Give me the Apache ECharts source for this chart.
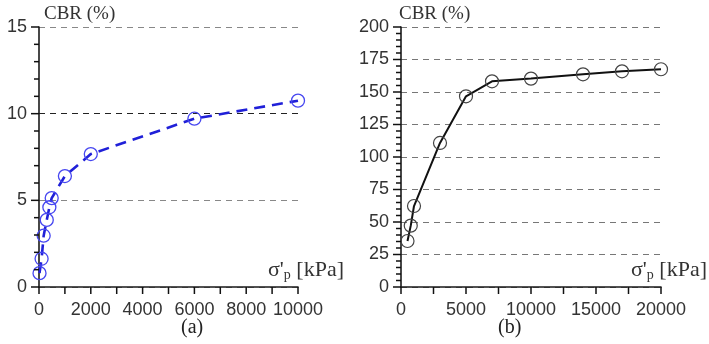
<!DOCTYPE html>
<html>
<head>
<meta charset="utf-8">
<script src="https://cdn.jsdelivr.net/npm/echarts@6/dist/echarts.min.js"></script>
<style>
html,body{margin:0;padding:0;background:#fff;}
#chart{width:709px;height:344px;}
</style>
</head>
<body>
<div id="chart"></div>
<script>
// Panel (a): CBR vs sigma'p
const stressA = [20, 100, 180, 300, 400, 490, 1000, 2000, 6000, 10000];
const cbrA = [0.8, 1.63, 2.96, 3.87, 4.6, 5.13, 6.4, 7.67, 9.71, 10.75];
// Panel (b)
const stressB = [500, 750, 1000, 3000, 5000, 7000, 10000, 14000, 17000, 20000];
const cbrB = [35.4, 47.2, 62.3, 110.8, 146.7, 158.2, 160.3, 163.6, 165.9, 167.5];
// Axis settings
const yTicksA = [0, 5, 10, 15];
const xTicksA = [0, 2000, 4000, 6000, 8000, 10000];
const yTicksB = [0, 25, 50, 75, 100, 125, 150, 175, 200];
const xTicksB = [0, 5000, 10000, 15000, 20000];
const yMinorStepA = 1, xMinorStepA = 1000;
const yMinorStepB = 5, xMinorStepB = 2500;
const axisTitleY = 'CBR (%)';
const panelLabels = ['(a)', '(b)'];

const pairs = (xs, ys) => xs.map((x, i) => [x, ys[i]]);

// tick marks: [value, axis (0 = x, 1 = y), major (1/0)]
function tickData(xTicks, xStep, yTicks, yStep) {
  const out = [];
  const xMax = xTicks[xTicks.length - 1], yMax = yTicks[yTicks.length - 1];
  for (let v = 0; v <= xMax + 1e-9; v += xStep) out.push([v, 0, xTicks.includes(v) ? 1 : 0]);
  for (let v = 0; v <= yMax + 1e-9; v += yStep) out.push([v, 1, yTicks.includes(v) ? 1 : 0]);
  return out;
}

const labelFont = {fontFamily: 'Liberation Sans, Arial, sans-serif', fontSize: 18, color: '#333'};
const fmt = v => String(v);

function xAxis(gi, max, interval) {
  return {
    type: 'value', gridIndex: gi, min: 0, max: max, interval: interval,
    axisLine: {show: true, onZero: false, lineStyle: {color: '#1a1a1a', width: 1.6}},
    axisTick: {show: false},
    axisLabel: Object.assign({margin: 14, formatter: fmt}, labelFont),
    splitLine: {show: false}
  };
}
function yAxis(gi, max, interval, colors) {
  return {
    type: 'value', gridIndex: gi, min: 0, max: max, interval: interval,
    axisLine: {show: true, onZero: false, lineStyle: {color: '#1a1a1a', width: 1.6}},
    axisTick: {show: false},
    axisLabel: Object.assign({margin: 12, formatter: fmt}, labelFont),
    splitLine: {show: true, lineStyle: {color: colors, width: 1.2, type: [6, 5]}}
  };
}

function tickSeries(idx, data) {
  return {
    type: 'custom', xAxisIndex: idx, yAxisIndex: idx, data: data,
    clip: false, silent: true, z: 6,
    encode: {x: 0},
    renderItem: function (params, api) {
      const v = api.value(0), axis = api.value(1), major = api.value(2);
      const style = {stroke: '#111', lineWidth: 1.5};
      if (axis === 0) {
        const p = api.coord([v, 0]);
        return {type: 'line', shape: {x1: p[0], y1: p[1], x2: p[0], y2: p[1] + 7}, style: style};
      }
      const p = api.coord([0, v]);
      const len = major ? 8 : 5;
      return {type: 'line', shape: {x1: p[0] - len, y1: p[1], x2: p[0], y2: p[1]}, style: style};
    }
  };
}

const chart = echarts.init(document.getElementById('chart'), null, {renderer: 'canvas'});

function sigmaLabel(x) {
  return {
    type: 'text', left: x, top: 259,
    style: {
      text: "{s|σ'}{p|p}{s| [kPa]}",
      rich: {
        s: {fontFamily: 'Liberation Serif, Times New Roman, serif', fontSize: 22, fill: '#333'},
        p: {fontFamily: 'Liberation Serif, Times New Roman, serif', fontSize: 14, fill: '#333', padding: [11, 0, 0, 0]}
      }
    }
  };
}

chart.setOption({
  animation: false,
  backgroundColor: '#fff',
  grid: [
    {left: 39, top: 27, width: 259, height: 260},
    {left: 401, top: 27, width: 260, height: 260}
  ],
  xAxis: [xAxis(0, 10000, 2000), xAxis(1, 20000, 5000)],
  yAxis: [
    yAxis(0, 15, 5, ['#888', '#888', '#222', '#888']),
    yAxis(1, 200, 25, ['#777'])
  ],
  series: [
    {
      type: 'line', xAxisIndex: 0, yAxisIndex: 0,
      data: pairs(stressA, cbrA),
      symbol: 'circle', symbolSize: 13,
      itemStyle: {color: 'rgba(0,0,0,0)', borderColor: '#4646f0', borderWidth: 1.3},
      lineStyle: {color: '#2020d8', width: 2.6, type: [11, 7]},
      z: 3
    },
    {
      type: 'line', xAxisIndex: 1, yAxisIndex: 1,
      data: pairs(stressB, cbrB),
      symbol: 'circle', symbolSize: 13,
      itemStyle: {color: 'rgba(0,0,0,0)', borderColor: '#444', borderWidth: 1.2},
      lineStyle: {color: '#111', width: 2},
      z: 3
    },
    tickSeries(0, tickData(xTicksA, xMinorStepA, yTicksA, yMinorStepA)),
    tickSeries(1, tickData(xTicksB, xMinorStepB, yTicksB, yMinorStepB))
  ],
  graphic: [
    {type: 'text', left: 44, top: 5, style: {text: axisTitleY, fontFamily: 'Liberation Serif, Times New Roman, serif', fontSize: 19, fill: '#333'}},
    {type: 'text', left: 399, top: 5, style: {text: axisTitleY, fontFamily: 'Liberation Serif, Times New Roman, serif', fontSize: 19, fill: '#333'}},
    sigmaLabel(268),
    sigmaLabel(631),
    {type: 'text', left: 181, top: 318, style: {text: panelLabels[0], fontFamily: 'Liberation Serif, Times New Roman, serif', fontSize: 20, fill: '#222'}},
    {type: 'text', left: 498, top: 318, style: {text: panelLabels[1], fontFamily: 'Liberation Serif, Times New Roman, serif', fontSize: 20, fill: '#222'}}
  ]
});
</script>
</body>
</html>
